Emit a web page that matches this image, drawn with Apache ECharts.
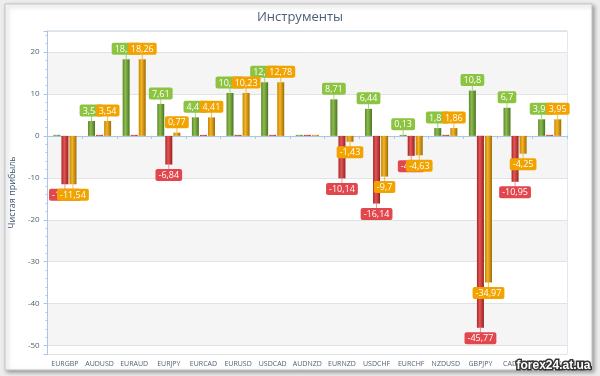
<!DOCTYPE html>
<html>
<head>
<meta charset="utf-8">
<script src="https://cdn.jsdelivr.net/npm/echarts@6/dist/echarts.min.js"></script>
<style>
  html, body { margin: 0; padding: 0; background: #f0f0f0; }
  #main { width: 600px; height: 376px; }
</style>
</head>
<body>
<div id="main"></div>
<script>
(function(){
  var categories = ['EURGBP', 'AUDUSD', 'EURAUD', 'EURJPY', 'EURCAD', 'EURUSD', 'USDCAD', 'AUDNZD',
                    'EURNZD', 'USDCHF', 'EURCHF', 'NZDUSD', 'GBPJPY', 'CADJPY', 'CHFJPY'];
  var profit = [0, 3.54, 18.26, 7.61, 4.41, 10.23, 12.78, 0, 8.71, 6.44, 0.13, 1.86, 10.8, 6.7, 3.95];
  var loss   = [-11.54, 0, 0, -6.84, 0, 0, 0, 0, -10.14, -16.14, -4.76, 0, -45.77, -10.95, 0];
  var net    = [-11.54, 3.54, 18.26, 0.77, 4.41, 10.23, 12.78, 0, -1.43, -9.7, -4.63, 1.86, -34.97, -4.25, 3.95];

  var font = 'Open Sans';
  var axisText = '#4f5f74';

  function grad(c0, c1, c2) {
    return new echarts.graphic.LinearGradient(0, 0, 1, 0, [
      { offset: 0, color: c0 },
      { offset: 0.4, color: c1 },
      { offset: 1, color: c2 }
    ]);
  }

  // bar series with a boxed label and a little leader line
  function barSeries(name, data, fill, tag, lineColor) {
    return {
      name: name,
      type: 'bar',
      data: data,
      barWidth: 7,
      barGap: '15%',
      barMinHeight: 1,
      itemStyle: { color: fill },
      label: {
        show: true,
        position: 'outside',
        distance: 0,
        fontFamily: font,
        formatter: function (p) {
          if (p.value === 0) return '';
          var s = String(p.value).replace('.', ',');
          return p.value > 0 ? '{b|' + s + '}\n{l|}' : '{l|}\n{b|' + s + '}';
        },
        rich: {
          b: {
            backgroundColor: tag,
            color: '#fff',
            borderRadius: 2,
            padding: [2, 3, 1, 3],
            fontSize: 9,
            lineHeight: 11,
            fontFamily: font
          },
          l: { width: 1, height: 5, backgroundColor: lineColor }
        }
      }
    };
  }

  var myChart = echarts.init(document.getElementById('main'));
  var option = {
    backgroundColor: '#ededed',
    animation: false,
    title: {
      text: 'Инструменты',
      left: 'center',
      top: 6,
      textStyle: { color: '#4d5d73', fontSize: 13, fontWeight: 'normal', fontFamily: font }
    },
    graphic: [
      {
        type: 'rect',
        shape: { x: 5, y: 4, width: 587, height: 366 },
        style: { fill: '#fff', stroke: '#c4c4c4', lineWidth: 1,
                 shadowBlur: 4, shadowOffsetX: 2, shadowOffsetY: 2, shadowColor: 'rgba(0,0,0,0.35)' },
        z: -10
      },
      {
        type: 'text',
        right: 8,
        bottom: 3,
        z: 100,
        style: { text: 'forex24.at.ua', fill: '#fff', stroke: '#333', lineWidth: 3,
                 fontSize: 12, fontWeight: 'bold', fontFamily: 'Liberation Sans' }
      }
    ],
    grid: {
      left: 46,
      right: 33,
      top: 31,
      bottom: 22,
      show: true,
      borderColor: '#bcd3ec',
      borderWidth: 1
    },
    xAxis: {
      type: 'category',
      data: categories,
      axisLine: { lineStyle: { color: '#a9c6e6' } },
      axisTick: { show: true, length: 3, lineStyle: { color: '#a9c6e6' } },
      axisLabel: { color: axisText, fontSize: 7, fontFamily: font, margin: 6, interval: 0, hideOverlap: false }
    },
    yAxis: {
      type: 'value',
      min: -52,
      max: 25,
      splitNumber: 7,
      name: 'Чистая прибыль',
      nameLocation: 'middle',
      nameGap: 24,
      nameTextStyle: { color: '#3f5877', fontSize: 9, fontFamily: font },
      axisLine: { show: true, lineStyle: { color: '#a9c6e6' } },
      axisTick: { show: true, length: 4, lineStyle: { color: '#a9c6e6' } },
      minorTick: { show: true, splitNumber: 5, length: 2, lineStyle: { color: '#a9c6e6' } },
      axisLabel: { color: axisText, fontSize: 8, fontFamily: font, margin: 8,
                   showMinLabel: false, showMaxLabel: false },
      splitLine: { lineStyle: { color: '#e2e2e2' } },
      splitArea: { show: true, areaStyle: { color: ['#ffffff', '#f5f5f5'] } }
    },
    series: [
      barSeries('Прибыль', profit, grad('#5b8a2a', '#8dbb4e', '#4a7420'), '#8cc341', 'rgba(140,195,65,0.7)'),
      barSeries('Убыток', loss, grad('#a82626', '#e25656', '#9a2020'), '#e2474d', 'rgba(226,71,77,0.6)'),
      barSeries('Итого', net, grad('#c48600', '#f4b428', '#a06c00'), '#f2a300', 'rgba(242,163,0,0.7)')
    ]
  };
  myChart.setOption(option);
  window.addEventListener('resize', function () {
    myChart.resize();
  });
})();
</script>
</body>
</html>
